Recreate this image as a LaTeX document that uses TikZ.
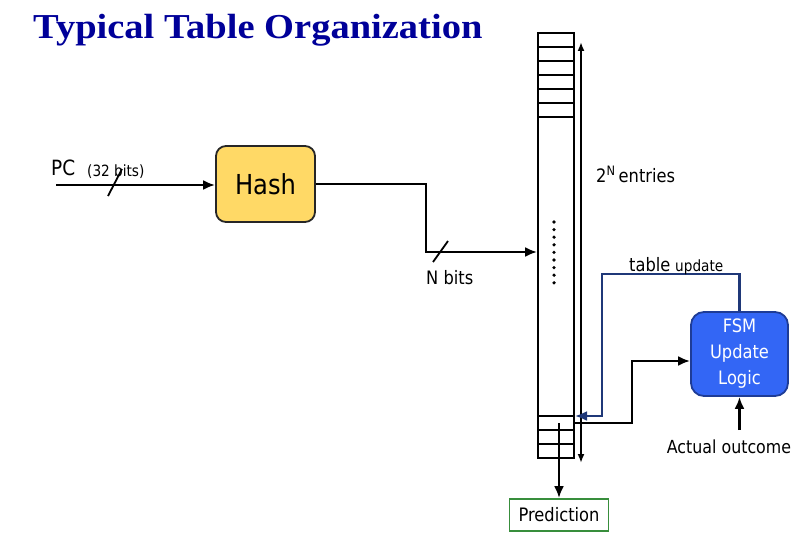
\documentclass[tikz,border=0pt]{standalone}
\usepackage{fontspec}
\setmainfont{DejaVu Sans}[FakeStretch=0.88]
\newfontfamily\titlefont{Liberation Serif}[FakeStretch=1.1]
\usetikzlibrary{arrows.meta}
\definecolor{titleblue}{RGB}{0,0,153}
\definecolor{hashfill}{RGB}{255,217,102}
\definecolor{fsmfill}{RGB}{51,102,245}
\definecolor{fsmborder}{RGB}{30,60,150}
\definecolor{upblue}{RGB}{31,56,120}
\definecolor{predgreen}{RGB}{56,142,60}
\begin{document}
\begin{tikzpicture}[x=1pt,y=-1pt,
  wire/.style={line width=2.4pt, draw=black},
  arr/.style={-{Latex[length=12pt,width=10pt]}},
  tbl/.style={line width=1.8pt},
  lbl/.style={inner sep=0pt, font=\fontsize{18.5}{21}\selectfont},
  upd/.style={line width=2.2pt, draw=upblue, -{Latex[length=12pt,width=10pt]}}]
\useasboundingbox (0,0) rectangle (805,551);

% title
\node[anchor=base west, inner sep=0pt, text=titleblue,
      font=\titlefont\bfseries\fontsize{35}{38}\selectfont] (title) at (33,38) {Typical Table Organization};

% hash
\node[draw=black!85, line width=1.8pt, fill=hashfill, rounded corners=10pt,
      minimum width=99pt, minimum height=76pt, inner sep=0pt,
      font=\fontsize{27.5}{30}\selectfont] (hash) at (265.5,184) {Hash};

% table
\node[draw, tbl, minimum width=36pt, minimum height=425pt, inner sep=0pt] (table) at (556,245.5) {};
\foreach \yy in {47,61,75,89,103,117,416,430,444}
  \draw[tbl] (538,\yy) -- (574,\yy);
\foreach \i in {0,...,8}
  \fill (554,222+7.6*\i) circle (1.8pt);

% double arrow 2^N entries
\coordinate (ttop) at (581,42);
\coordinate (tbot) at (581,463);
\draw[wire, {Latex[length=9pt,width=7pt]}-{Latex[length=9pt,width=7pt]}] (ttop) -- (tbot);
\node[lbl, anchor=base west] (entries) at (596,182) {2\textsuperscript{N}\,entries};

% PC input
\node[inner sep=0pt, anchor=base west, font=\fontsize{21}{23}\selectfont] (pc) at (51,175) {PC};
\node[inner sep=0pt, anchor=base west, font=\fontsize{15.5}{17}\selectfont] (pcbits) at (87,176) {(32 bits)};
\coordinate (pcin) at (56,185);
\draw[wire, arr] (pcin) -- (hash.west |- pcin);
\coordinate (s1a) at (108,196);
\coordinate (s1b) at (122,169);
\draw[line width=1.8pt] (s1a) -- (s1b);

% hash to table
\coordinate (bend) at (426,252);
\draw[wire, arr] (hash.east) -| (bend) -- (table.west |- bend);
\coordinate (s2a) at (433,262);
\coordinate (s2b) at (448,241);
\draw[line width=1.8pt] (s2a) -- (s2b);
\node[lbl, anchor=base west] (nbits) at (426,284) {N bits};

% FSM
\node[draw=fsmborder, line width=1.8pt, fill=fsmfill, rounded corners=13pt,
      minimum width=97pt, minimum height=84pt, inner sep=0pt, text=white, align=center,
      font=\fontsize{18.5}{26}\selectfont] (fsm) at (739.5,354) {FSM\\Update\\Logic};

% table update path
\coordinate (u1) at (602,274);
\coordinate (u2) at (602,416);
\coordinate (updtip) at (575,416);
\draw[upd] (fsm.north) |- (u1) -- (u2) -- (updtip);
\node[inner sep=0pt, anchor=base west, font=\fontsize{18.5}{21}\selectfont] (tab) at (629,271) {table};
\node[inner sep=0pt, anchor=base west, font=\fontsize{15.5}{17}\selectfont] (upword) at (675,271) {update};

% table to FSM
\coordinate (c0) at (574,423);
\coordinate (c1) at (632,423);
\coordinate (c2) at (632,361);
\draw[wire, arr] (c0) -- (c1) -- (c2) -- (fsm.west |- c2);

% actual outcome
\node[inner sep=0pt, anchor=base, font=\fontsize{18}{20}\selectfont] (act) at (729,453) {Actual outcome};
\coordinate (actin) at (fsm.south |- 0,430);
\draw[wire, arr] (actin) -- (fsm.south);

% prediction
\node[draw=predgreen, line width=1.8pt, minimum width=99pt, minimum height=32pt, inner sep=0pt,
      font=\fontsize{18.5}{21}\selectfont] (pred) at (559,515) {Prediction};
\coordinate (predsrc) at (559,423);
\draw[wire, arr] (predsrc) -- (pred.north);
\end{tikzpicture}
\end{document}
